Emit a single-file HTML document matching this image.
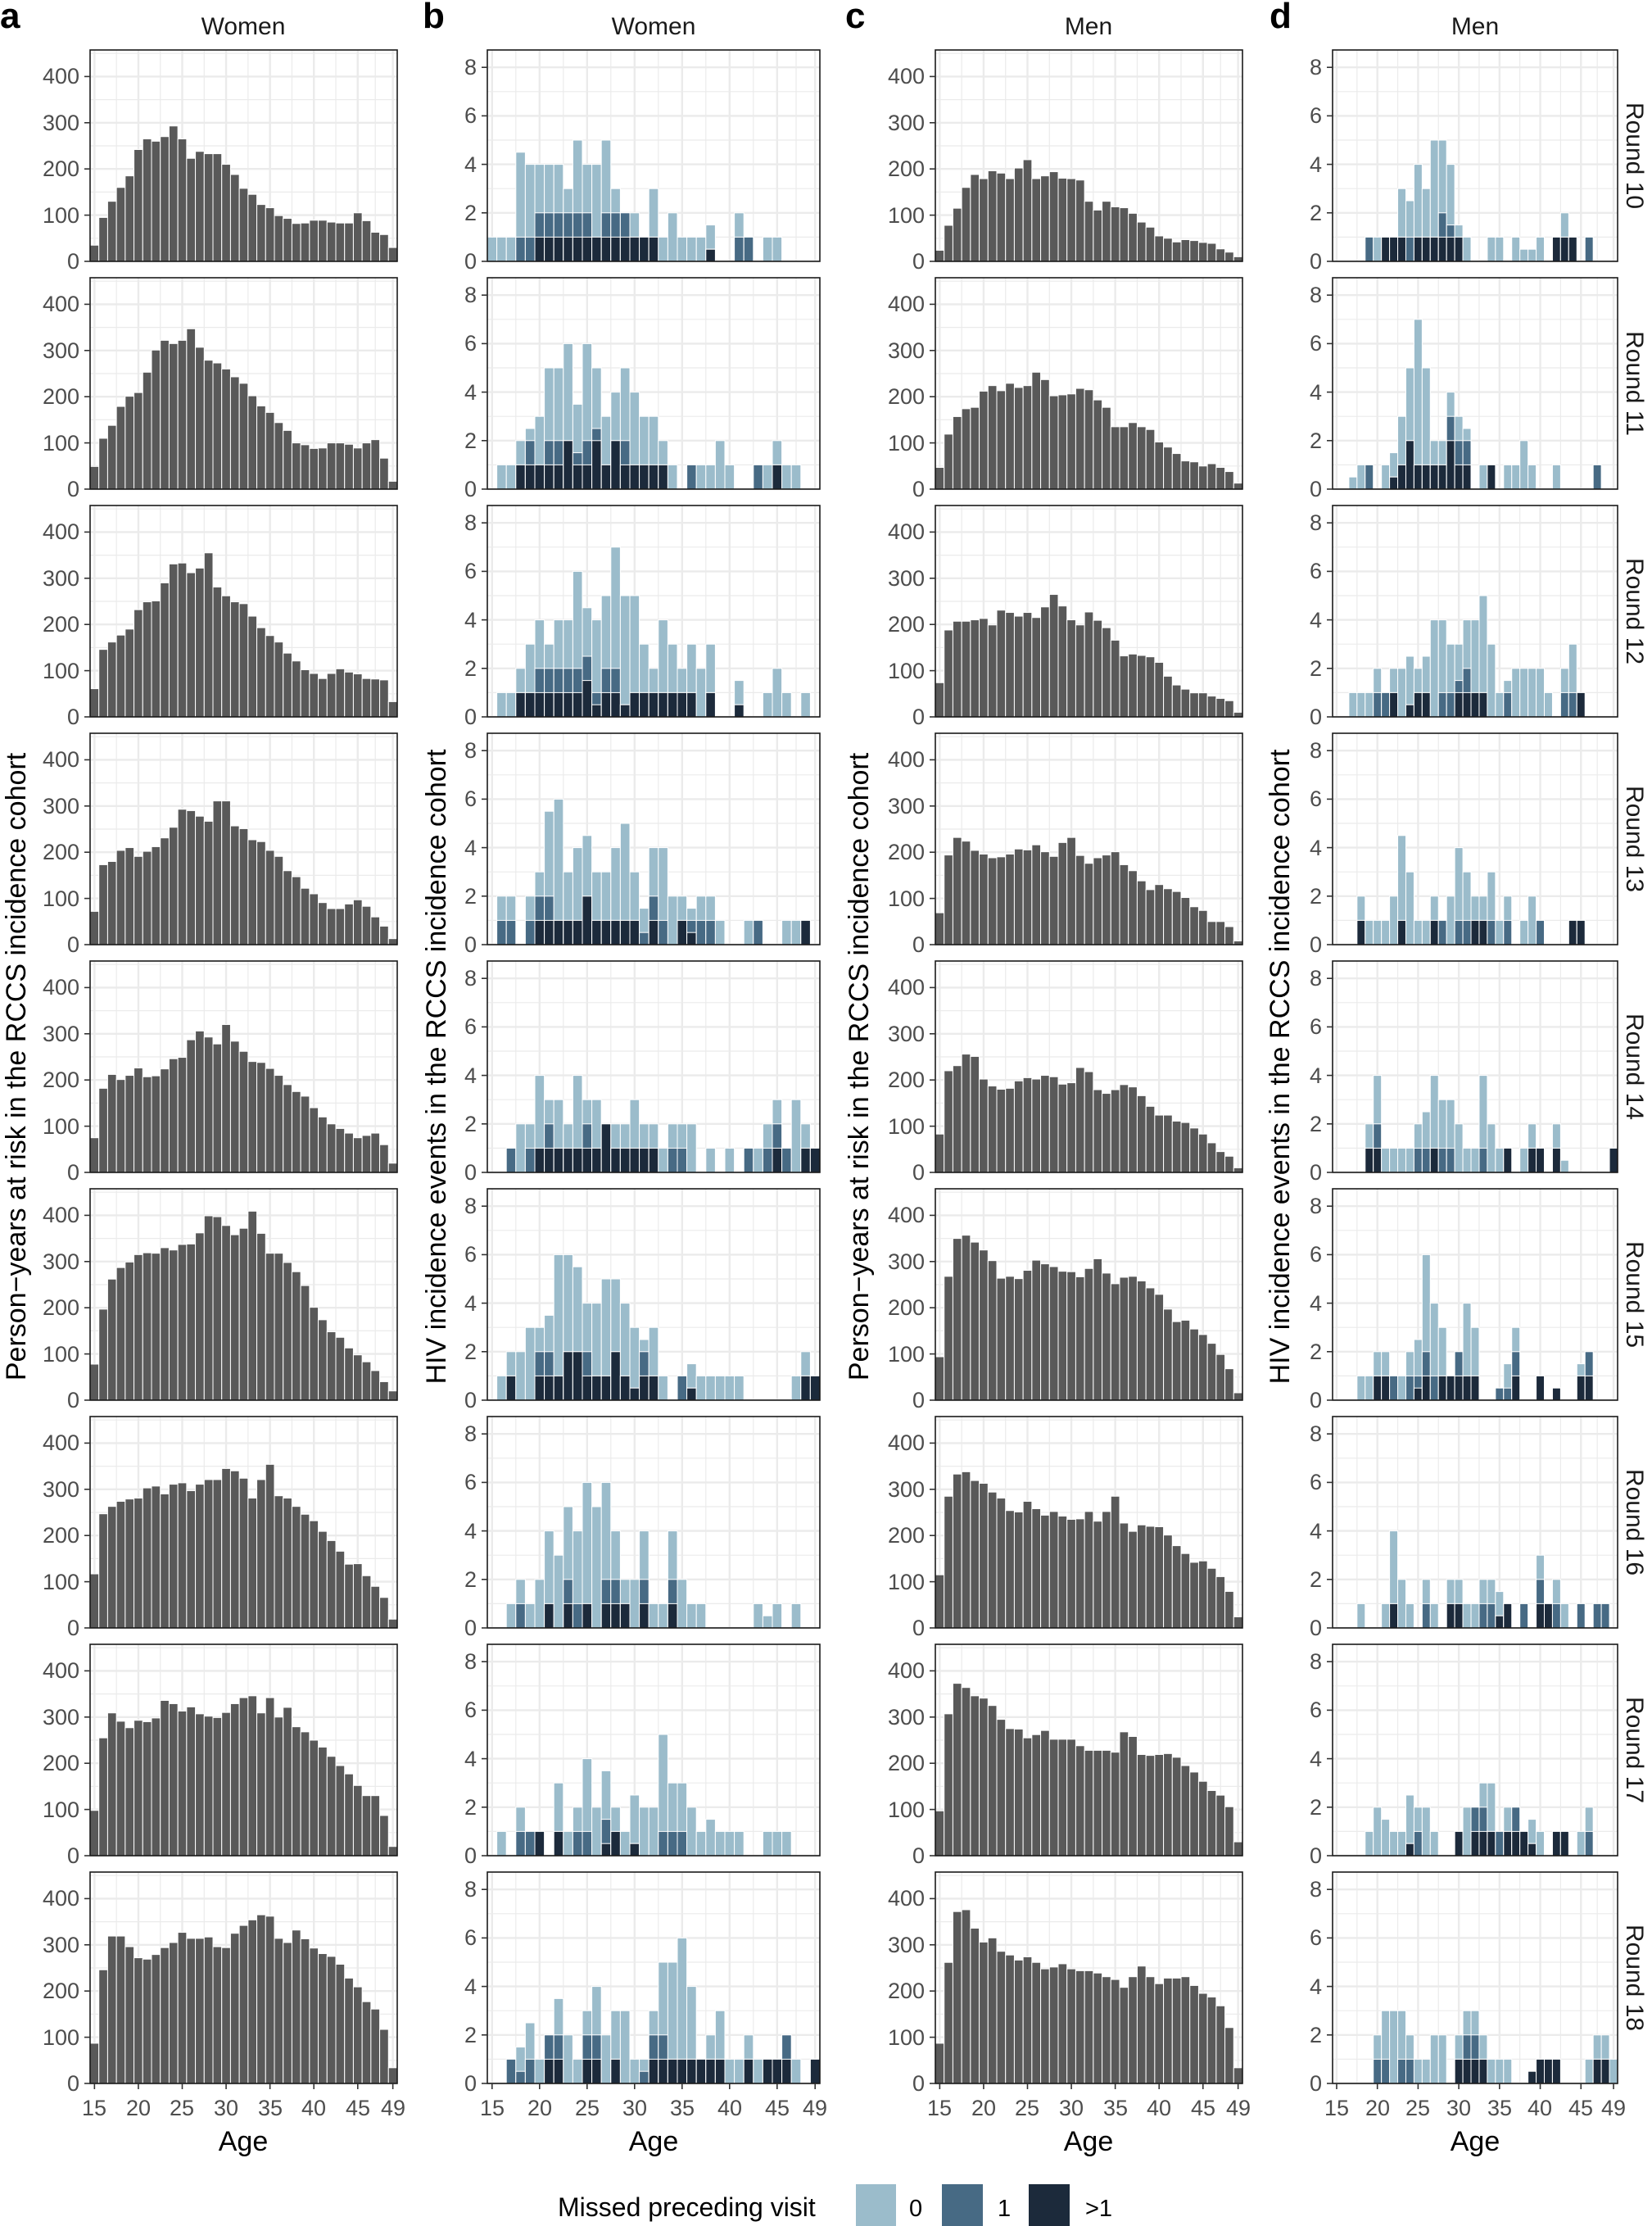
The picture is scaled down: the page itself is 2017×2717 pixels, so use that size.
<!DOCTYPE html>
<html><head><meta charset="utf-8">
<style>
body{margin:0;background:#fff}
svg{display:block;font-family:"Liberation Sans",Arial,sans-serif}
.ty{font-size:27px;fill:#4d4d4d;text-anchor:end}
.tx{font-size:27px;fill:#4d4d4d;text-anchor:middle}
.st{font-size:30px;fill:#1a1a1a;text-anchor:middle}
.ttl{font-size:30px;fill:#1a1a1a;text-anchor:middle}
.lt{font-size:44px;font-weight:bold;fill:#000}
.ax{font-size:34px;fill:#000;text-anchor:middle}
</style></head><body>
<svg id="s" width="2017" height="2717" viewBox="0 0 2017 2717" xmlns="http://www.w3.org/2000/svg">
<rect width="2017" height="2717" fill="#fff"/>
<g id="plots"></g>
<text class="lt" x="0" y="34">a</text>
<text class="lt" x="516" y="34">b</text>
<text class="lt" x="1032" y="34">c</text>
<text class="lt" x="1550" y="34">d</text>
<text class="ttl" x="297" y="42">Women</text>
<text class="ttl" x="798" y="42">Women</text>
<text class="ttl" x="1329" y="42">Men</text>
<text class="ttl" x="1801" y="42">Men</text>
<text class="ax" transform="translate(31,1302) rotate(-90)">Person−years at risk in the RCCS incidence cohort</text>
<text class="ax" transform="translate(544,1302) rotate(-90)">HIV incidence events in the RCCS incidence cohort</text>
<text class="ax" transform="translate(1060,1302) rotate(-90)">Person−years at risk in the RCCS incidence cohort</text>
<text class="ax" transform="translate(1574,1302) rotate(-90)">HIV incidence events in the RCCS incidence cohort</text>

<g transform="translate(0,0)"><text class="ty"><tspan x="97" y="328">0</tspan><tspan x="97" y="272">100</tspan><tspan x="97" y="215">200</tspan><tspan x="97" y="159">300</tspan><tspan x="97" y="102">400</tspan></text><text class="ty"><tspan x="582" y="328">0</tspan><tspan x="582" y="269">2</tspan><tspan x="582" y="210">4</tspan><tspan x="582" y="150">6</tspan><tspan x="582" y="91">8</tspan></text><text class="ty"><tspan x="1129" y="328">0</tspan><tspan x="1129" y="272">100</tspan><tspan x="1129" y="215">200</tspan><tspan x="1129" y="159">300</tspan><tspan x="1129" y="102">400</tspan></text><text class="ty"><tspan x="1614" y="328">0</tspan><tspan x="1614" y="269">2</tspan><tspan x="1614" y="210">4</tspan><tspan x="1614" y="150">6</tspan><tspan x="1614" y="91">8</tspan></text><text class="st" transform="translate(1986,190) rotate(90)">Round 10</text></g>
<g transform="translate(0,278)"><text class="ty"><tspan x="97" y="328">0</tspan><tspan x="97" y="272">100</tspan><tspan x="97" y="215">200</tspan><tspan x="97" y="159">300</tspan><tspan x="97" y="102">400</tspan></text><text class="ty"><tspan x="582" y="328">0</tspan><tspan x="582" y="269">2</tspan><tspan x="582" y="210">4</tspan><tspan x="582" y="150">6</tspan><tspan x="582" y="91">8</tspan></text><text class="ty"><tspan x="1129" y="328">0</tspan><tspan x="1129" y="272">100</tspan><tspan x="1129" y="215">200</tspan><tspan x="1129" y="159">300</tspan><tspan x="1129" y="102">400</tspan></text><text class="ty"><tspan x="1614" y="328">0</tspan><tspan x="1614" y="269">2</tspan><tspan x="1614" y="210">4</tspan><tspan x="1614" y="150">6</tspan><tspan x="1614" y="91">8</tspan></text><text class="st" transform="translate(1986,190) rotate(90)">Round 11</text></g>
<g transform="translate(0,556)"><text class="ty"><tspan x="97" y="328">0</tspan><tspan x="97" y="272">100</tspan><tspan x="97" y="215">200</tspan><tspan x="97" y="159">300</tspan><tspan x="97" y="102">400</tspan></text><text class="ty"><tspan x="582" y="328">0</tspan><tspan x="582" y="269">2</tspan><tspan x="582" y="210">4</tspan><tspan x="582" y="150">6</tspan><tspan x="582" y="91">8</tspan></text><text class="ty"><tspan x="1129" y="328">0</tspan><tspan x="1129" y="272">100</tspan><tspan x="1129" y="215">200</tspan><tspan x="1129" y="159">300</tspan><tspan x="1129" y="102">400</tspan></text><text class="ty"><tspan x="1614" y="328">0</tspan><tspan x="1614" y="269">2</tspan><tspan x="1614" y="210">4</tspan><tspan x="1614" y="150">6</tspan><tspan x="1614" y="91">8</tspan></text><text class="st" transform="translate(1986,190) rotate(90)">Round 12</text></g>
<g transform="translate(0,834)"><text class="ty"><tspan x="97" y="328">0</tspan><tspan x="97" y="272">100</tspan><tspan x="97" y="215">200</tspan><tspan x="97" y="159">300</tspan><tspan x="97" y="102">400</tspan></text><text class="ty"><tspan x="582" y="328">0</tspan><tspan x="582" y="269">2</tspan><tspan x="582" y="210">4</tspan><tspan x="582" y="150">6</tspan><tspan x="582" y="91">8</tspan></text><text class="ty"><tspan x="1129" y="328">0</tspan><tspan x="1129" y="272">100</tspan><tspan x="1129" y="215">200</tspan><tspan x="1129" y="159">300</tspan><tspan x="1129" y="102">400</tspan></text><text class="ty"><tspan x="1614" y="328">0</tspan><tspan x="1614" y="269">2</tspan><tspan x="1614" y="210">4</tspan><tspan x="1614" y="150">6</tspan><tspan x="1614" y="91">8</tspan></text><text class="st" transform="translate(1986,190) rotate(90)">Round 13</text></g>
<g transform="translate(0,1112)"><text class="ty"><tspan x="97" y="328">0</tspan><tspan x="97" y="272">100</tspan><tspan x="97" y="215">200</tspan><tspan x="97" y="159">300</tspan><tspan x="97" y="102">400</tspan></text><text class="ty"><tspan x="582" y="328">0</tspan><tspan x="582" y="269">2</tspan><tspan x="582" y="210">4</tspan><tspan x="582" y="150">6</tspan><tspan x="582" y="91">8</tspan></text><text class="ty"><tspan x="1129" y="328">0</tspan><tspan x="1129" y="272">100</tspan><tspan x="1129" y="215">200</tspan><tspan x="1129" y="159">300</tspan><tspan x="1129" y="102">400</tspan></text><text class="ty"><tspan x="1614" y="328">0</tspan><tspan x="1614" y="269">2</tspan><tspan x="1614" y="210">4</tspan><tspan x="1614" y="150">6</tspan><tspan x="1614" y="91">8</tspan></text><text class="st" transform="translate(1986,190) rotate(90)">Round 14</text></g>
<g transform="translate(0,1390)"><text class="ty"><tspan x="97" y="328">0</tspan><tspan x="97" y="272">100</tspan><tspan x="97" y="215">200</tspan><tspan x="97" y="159">300</tspan><tspan x="97" y="102">400</tspan></text><text class="ty"><tspan x="582" y="328">0</tspan><tspan x="582" y="269">2</tspan><tspan x="582" y="210">4</tspan><tspan x="582" y="150">6</tspan><tspan x="582" y="91">8</tspan></text><text class="ty"><tspan x="1129" y="328">0</tspan><tspan x="1129" y="272">100</tspan><tspan x="1129" y="215">200</tspan><tspan x="1129" y="159">300</tspan><tspan x="1129" y="102">400</tspan></text><text class="ty"><tspan x="1614" y="328">0</tspan><tspan x="1614" y="269">2</tspan><tspan x="1614" y="210">4</tspan><tspan x="1614" y="150">6</tspan><tspan x="1614" y="91">8</tspan></text><text class="st" transform="translate(1986,190) rotate(90)">Round 15</text></g>
<g transform="translate(0,1668)"><text class="ty"><tspan x="97" y="328">0</tspan><tspan x="97" y="272">100</tspan><tspan x="97" y="215">200</tspan><tspan x="97" y="159">300</tspan><tspan x="97" y="102">400</tspan></text><text class="ty"><tspan x="582" y="328">0</tspan><tspan x="582" y="269">2</tspan><tspan x="582" y="210">4</tspan><tspan x="582" y="150">6</tspan><tspan x="582" y="91">8</tspan></text><text class="ty"><tspan x="1129" y="328">0</tspan><tspan x="1129" y="272">100</tspan><tspan x="1129" y="215">200</tspan><tspan x="1129" y="159">300</tspan><tspan x="1129" y="102">400</tspan></text><text class="ty"><tspan x="1614" y="328">0</tspan><tspan x="1614" y="269">2</tspan><tspan x="1614" y="210">4</tspan><tspan x="1614" y="150">6</tspan><tspan x="1614" y="91">8</tspan></text><text class="st" transform="translate(1986,190) rotate(90)">Round 16</text></g>
<g transform="translate(0,1946)"><text class="ty"><tspan x="97" y="328">0</tspan><tspan x="97" y="272">100</tspan><tspan x="97" y="215">200</tspan><tspan x="97" y="159">300</tspan><tspan x="97" y="102">400</tspan></text><text class="ty"><tspan x="582" y="328">0</tspan><tspan x="582" y="269">2</tspan><tspan x="582" y="210">4</tspan><tspan x="582" y="150">6</tspan><tspan x="582" y="91">8</tspan></text><text class="ty"><tspan x="1129" y="328">0</tspan><tspan x="1129" y="272">100</tspan><tspan x="1129" y="215">200</tspan><tspan x="1129" y="159">300</tspan><tspan x="1129" y="102">400</tspan></text><text class="ty"><tspan x="1614" y="328">0</tspan><tspan x="1614" y="269">2</tspan><tspan x="1614" y="210">4</tspan><tspan x="1614" y="150">6</tspan><tspan x="1614" y="91">8</tspan></text><text class="st" transform="translate(1986,190) rotate(90)">Round 17</text></g>
<g transform="translate(0,2224)"><text class="ty"><tspan x="97" y="328">0</tspan><tspan x="97" y="272">100</tspan><tspan x="97" y="215">200</tspan><tspan x="97" y="159">300</tspan><tspan x="97" y="102">400</tspan></text><text class="ty"><tspan x="582" y="328">0</tspan><tspan x="582" y="269">2</tspan><tspan x="582" y="210">4</tspan><tspan x="582" y="150">6</tspan><tspan x="582" y="91">8</tspan></text><text class="ty"><tspan x="1129" y="328">0</tspan><tspan x="1129" y="272">100</tspan><tspan x="1129" y="215">200</tspan><tspan x="1129" y="159">300</tspan><tspan x="1129" y="102">400</tspan></text><text class="ty"><tspan x="1614" y="328">0</tspan><tspan x="1614" y="269">2</tspan><tspan x="1614" y="210">4</tspan><tspan x="1614" y="150">6</tspan><tspan x="1614" y="91">8</tspan></text><text class="st" transform="translate(1986,190) rotate(90)">Round 18</text></g>

<text class="tx"><tspan x="115" y="2582">15</tspan><tspan x="169" y="2582">20</tspan><tspan x="222" y="2582">25</tspan><tspan x="276" y="2582">30</tspan><tspan x="330" y="2582">35</tspan><tspan x="383" y="2582">40</tspan><tspan x="437" y="2582">45</tspan><tspan x="480" y="2582">49</tspan></text>
<text class="tx"><tspan x="601" y="2582">15</tspan><tspan x="659" y="2582">20</tspan><tspan x="717" y="2582">25</tspan><tspan x="775" y="2582">30</tspan><tspan x="833" y="2582">35</tspan><tspan x="891" y="2582">40</tspan><tspan x="949" y="2582">45</tspan><tspan x="995" y="2582">49</tspan></text>
<text class="tx"><tspan x="1147" y="2582">15</tspan><tspan x="1201" y="2582">20</tspan><tspan x="1254" y="2582">25</tspan><tspan x="1308" y="2582">30</tspan><tspan x="1362" y="2582">35</tspan><tspan x="1415" y="2582">40</tspan><tspan x="1469" y="2582">45</tspan><tspan x="1512" y="2582">49</tspan></text>
<text class="tx"><tspan x="1632" y="2582">15</tspan><tspan x="1682" y="2582">20</tspan><tspan x="1731" y="2582">25</tspan><tspan x="1781" y="2582">30</tspan><tspan x="1831" y="2582">35</tspan><tspan x="1880" y="2582">40</tspan><tspan x="1930" y="2582">45</tspan><tspan x="1970" y="2582">49</tspan></text>
<text class="ax" x="297" y="2625">Age</text>
<text class="ax" x="798" y="2625">Age</text>
<text class="ax" x="1329" y="2625">Age</text>
<text class="ax" x="1801" y="2625">Age</text>

<text x="681" y="2705" style="font-size:32px;fill:#000">Missed preceding visit</text>
<rect x="1045" y="2666" width="49" height="51" fill="#9bbccb"/>
<text x="1110" y="2705" style="font-size:29px;fill:#000">0</text>
<rect x="1150" y="2666" width="50" height="51" fill="#476a84"/>
<text x="1218" y="2705" style="font-size:29px;fill:#000">1</text>
<rect x="1256" y="2666" width="50" height="51" fill="#1c2a3b"/>
<text x="1325" y="2705" style="font-size:29px;fill:#000">&gt;1</text>
</svg>
<script>
(function(){
var NS="http://www.w3.org/2000/svg",G=document.getElementById("plots");
function el(t,a){var e=document.createElementNS(NS,t);for(var k in a)e.setAttribute(k,a[k]);G.appendChild(e);return e;}
var A=[
"35,95,130,160,185,242,265,260,270,293,265,223,238,233,233,210,188,158,145,123,116,99,93,82,83,89,89,85,83,83,105,88,63,58,30",
"49,110,138,179,201,209,253,301,322,315,322,347,307,279,273,260,243,229,202,180,166,144,127,100,96,88,89,100,100,97,89,100,107,67,17",
"61,146,162,177,190,232,249,251,290,331,333,312,322,355,281,262,249,245,218,193,176,162,138,121,102,94,83,94,104,97,93,83,82,80,33",
"72,173,180,204,210,191,202,212,231,254,293,290,278,267,311,311,257,251,227,223,204,191,160,147,122,110,91,78,78,88,97,83,60,40,13",
"75,182,212,201,210,226,207,209,224,246,249,287,306,293,278,320,284,262,240,238,225,210,190,175,165,140,120,105,95,85,75,80,85,60,20",
"78,197,262,287,299,315,319,318,330,325,337,338,362,399,397,378,358,372,409,361,318,318,298,278,248,201,174,148,136,113,98,83,64,40,20",
"117,247,263,274,279,281,303,307,290,311,314,297,311,321,321,345,340,324,281,321,354,286,281,263,246,232,209,189,166,138,139,113,90,66,19",
"98,255,309,291,277,293,290,298,336,329,313,322,307,302,299,310,329,342,346,309,342,300,321,279,268,250,235,215,195,177,152,130,130,87,20",
"87,246,319,319,296,272,269,279,294,305,327,314,314,317,296,294,325,342,354,365,362,314,305,332,313,293,281,275,258,228,209,177,161,117,34"];
var C=[
"24,78,115,160,188,179,196,191,179,202,220,179,185,194,180,179,176,130,111,130,118,116,104,85,74,55,50,42,47,45,41,39,27,20,10",
"47,119,157,174,177,212,224,213,229,220,224,253,237,202,204,206,218,215,193,177,135,135,144,135,129,102,91,77,61,59,50,55,47,38,13",
"74,188,207,207,210,213,199,231,226,218,226,215,238,265,240,210,199,227,209,193,166,132,136,133,130,118,88,69,60,52,52,45,40,35,10",
"69,194,232,224,204,196,188,190,196,207,205,216,201,191,221,232,193,176,188,194,201,173,160,138,119,130,121,115,102,82,74,50,50,39,8",
"83,220,231,256,251,202,187,180,182,198,205,202,210,207,191,194,227,218,179,171,179,190,185,166,143,124,124,111,108,96,83,64,45,35,10",
"94,268,350,357,342,325,302,264,268,263,281,303,295,289,279,278,267,285,306,275,252,266,268,258,243,229,197,170,173,154,142,123,99,68,16",
"115,285,333,338,319,313,294,281,254,251,274,258,244,252,242,235,236,252,231,252,285,227,209,223,220,219,201,178,161,142,145,129,111,79,24",
"97,307,373,364,346,341,325,295,275,274,255,262,271,252,252,252,238,228,228,228,224,268,258,219,217,219,221,213,195,181,161,141,131,106,30",
"87,262,372,376,336,306,315,286,278,267,274,262,248,252,259,248,244,244,239,231,225,208,231,254,231,216,228,228,231,212,195,187,168,121,34"];
var B=[
"15:0,0,1 16:0,0,1 17:0,0,1 18:0,1,4.5 19:0,1,4 20:1,2,4 21:1,2,4 22:1,2,4 23:1,2,3 24:1,2,5 25:1,2,4 26:1,1,4 27:1,2,5 28:1,2,3 29:1,2,2 30:1,1,2 31:1,1,1 32:1,1,3 33:0,0,1 34:0,0,2 35:0,0,1 36:0,0,1 37:0,0,1 38:0.5,0.5,1.5 41:0,1,2 42:0,1,1 44:0,0,1 45:0,0,1",
"16:0,0,1 17:0,0,1 18:1,1,2 19:1,2,2.5 20:1,1,3 21:1,2,5 22:1,2,5 23:2,2,6 24:1,1.5,3.5 25:1,2,6 26:2,2.5,5 27:1,1,3 28:2,2,4 29:1,2,5 30:1,1,4 31:1,1,3 32:1,1,3 33:1,1,2 34:0,0,1 36:0,1,1 37:0,0,1 38:0,0,1 39:0,0,2 40:0,0,1 43:0,1,1 44:0,0,1 45:1,1,2 46:0,0,1 47:0,0,1",
"16:0,0,1 17:0,0,1 18:1,1,2 19:1,1,3 20:1,2,4 21:1,2,3 22:1,2,4 23:1,2,4 24:1,2,6 25:1.5,2.5,4.5 26:0.5,1,4 27:1,2,5 28:1,2,7 29:0.5,0.5,5 30:1,1,5 31:1,1,3 32:1,1,2 33:1,1,4 34:1,1,3 35:1,1,2 36:1,1,3 37:0,0,2 38:1,1,3 41:0.5,0.5,1.5 44:0,0,1 45:0,0,2 46:0,0,1 48:0,0,1",
"16:0,1,2 17:0,1,2 19:0,1,2 20:1,2,3 21:1,2,5.5 22:1,1,6 23:1,1,3 24:1,1,4 25:2,2,4.5 26:1,1,3 27:1,1,3 28:1,1,4 29:1,1,5 30:1,1,3 31:0,0.5,1.5 32:1,2,4 33:0,1,4 34:0,0,2 35:1,1,2 36:0.5,1,1.5 37:0,1,2 38:0,1,2 39:0,0,1 42:0,0,1 43:0,1,1 46:0,0,1 47:0,0,1 48:1,1,1",
"17:0,1,1 18:0,0,2 19:0,1,2 20:1,1,4 21:1,2,3 22:1,1,3 23:1,1,2 24:1,1,4 25:1,2,3 26:1,1,3 27:2,2,2 28:1,1,2 29:1,1,2 30:1,1,3 31:1,1,2 32:1,1,2 33:0,0,1 34:0,1,2 35:0,1,2 36:0,0,2 38:0,0,1 40:0,0,1 42:0,1,1 43:0,0,1 44:0,1,2 45:1,2,3 46:0,1,1 47:0,0,3 48:1,1,2 49:1,1,1",
"16:0,0,1 17:1,1,2 18:0,0,2 19:0,0,3 20:1,2,3 21:1,2,3.5 22:1,1,6 23:2,2,6 24:2,2,5.5 25:1,2,4 26:1,1,4 27:1,1,5 28:2,2,5 29:1,1,4 30:0.5,0.5,3 31:1,2,2.5 32:1,1,3 33:0,0,1 35:0,1,1 36:0.5,0.5,1.5 37:0,0,1 38:0,0,1 39:0,0,1 40:0,0,1 41:0,0,1 47:0,0,1 48:1,1,2 49:1,1,1",
"17:0,0,1 18:0,1,2 19:0,0,1 20:0,0,2 21:1,1,4 22:0,0,3 23:1,2,5 24:0,1,4 25:1,1,6 26:0,0,5 27:1,2,6 28:1,2,4 29:1,1,2 30:0,0,2 31:1,2,4 32:0,0,1 33:0,0,1 34:1,2,4 35:0,0,2 36:0,0,1 37:0,0,1 43:0,0,1 44:0,0,0.5 45:0,0,1 47:0,0,1",
"16:0,0,1 18:0,1,2 19:0,1,1 20:1,1,1 22:1,1,3 23:0,0,1 24:0,1,2 25:0,1,4 26:0,0,2 27:0.5,1.5,3.5 28:1,1,2 29:0,0,1 30:0.5,0.5,2.5 31:0,0,2 32:0,0,2 33:0,1,5 34:0,1,3 35:0,1,3 36:0,0,2 37:0,0,1 38:0,0,1.5 39:0,0,1 40:0,0,1 41:0,0,1 44:0,0,1 45:0,0,1 46:0,0,1",
"17:0,1,1 18:0,0.5,1.5 19:0,1,2.5 20:0,0,1 21:1,2,2 22:1,2,3.5 23:0,0,2 24:0,0,1 25:1,2,3 26:1,2,4 27:0,0,2 28:1,1,3 29:0,0,3 30:0,0,1 31:0,0.5,1 32:1,2,3 33:1,2,5 34:1,1,5 35:1,1,6 36:1,1,4 37:1,1,1 38:1,1,2 39:1,1,3 40:0,0,1 41:0,0,1 42:1,1,2 43:0,0,1 44:1,1,1 45:1,1,1 46:1,2,2 47:0,0,1 49:1,1,1"];
var D=[
"19:0,1,1 20:0,0,1 21:1,1,1 22:1,1,1 23:1,1,3 24:0,1,2.5 25:1,1,4 26:1,1,3 27:1,1,5 28:1,2,5 29:1,1.5,4 30:1,1,1.5 31:0,0,1 34:0,0,1 35:0,0,1 37:0,0,1 38:0,0,0.5 39:0,0,0.5 40:0,0,1 42:1,1,1 43:1,1,2 44:1,1,1 46:0,1,1",
"17:0,0,0.5 18:0,0,1 19:0,1,1 21:0,0,1 22:0.5,0.5,1.5 23:1,1,3 24:2,2,5 25:1,1,7 26:1,1,5 27:1,1,2 28:1,1,2 29:2,3,4 30:1,2,3 31:1,2,2.5 33:0,0,1 34:1,1,1 36:0,0,1 37:0,0,1 38:0,0,2 39:0,0,1 42:0,0,1 47:0,1,1",
"17:0,0,1 18:0,0,1 19:0,0,1 20:0,1,2 21:0,1,1 22:1,1,2 23:0,0,2 24:0.5,0.5,2.5 25:1,1,2 26:1,1,2.5 27:0,0,4 28:0,1,4 29:0,1,3 30:1,1.5,3 31:1,2,4 32:1,1,4 33:1,1,5 34:0,0,3 35:0,0,1 36:0,1,1.5 37:0,0,2 38:0,0,2 39:0,0,2 40:0,0,2 41:0,0,1 43:0,1,2 44:0,1,3 45:1,1,1",
"18:1,1,2 19:0,0,1 20:0,0,1 21:0,0,1 22:0,0,2 23:1,1,4.5 24:0,0,3 25:0,0,1 26:0,0,1 27:1,1,2 28:0,1,1 29:0,0,2 30:0,1,4 31:0,1,3 32:1,1,2 33:1,1,2 34:0,1,3 35:0,0,1 36:0,1,2 38:0,0,1 39:0,0,2 40:0,1,1 44:1,1,1 45:1,1,1",
"19:1,1,2 20:1,2,4 21:0,0,1 22:0,0,1 23:0,0,1 24:0,0,1 25:0,1,2 26:0,1,2.5 27:1,1,4 28:0,1,3 29:0,1,3 30:0,0,2 31:0,0,1 32:0,0,1 33:0,1,4 34:0,0,2 35:0,0,1 36:1,1,1 38:0,0,1 39:1,1,2 40:1,1,1 42:1,1,2 43:0,0,0.5 49:1,1,1",
"18:0,0,1 19:0,0,1 20:1,1,2 21:1,1,2 22:0,1,1 23:0,0,1 24:0,1,2 25:0.5,1,2.5 26:1,2,6 27:0,1,4 28:1,1,3 29:1,1,1 30:1,2,2 31:1,1,4 32:1,1,3 35:0,0.5,0.5 36:0,0.5,1.5 37:1,2,3 40:1,1,1 42:0.5,0.5,0.5 45:1,1,1.5 46:1,2,2",
"18:0,0,1 21:0,0,1 22:1,1,4 23:0,0,2 24:0,0,1 26:0,1,2 27:0,0,1 29:1,1,2 30:1,1,2 31:0,0,1 32:0,0,1 33:0,1,2 34:0,1,2 35:0.5,0.5,1.5 36:1,1,1 38:0,1,1 40:1,2,3 41:1,1,1 42:0,1,2 43:0,0,1 45:0,1,1 47:0,1,1 48:0,1,1",
"19:0,0,1 20:0,0,2 21:0,0,1.5 22:0,0,1 23:0,0,1 24:0.5,0.5,2.5 25:0,1,2 26:0,0,2 27:0,0,1 30:1,1,1 31:0,0,2 32:1,2,2 33:1,2,3 34:1,1,3 35:0,1,1 36:1,1,2 37:1,2,2 38:1,1,1 39:0.5,0.5,1.5 40:0,0,1 42:1,1,1 43:1,1,1 45:0,0,1 46:0,1,2",
"20:0,1,2 21:0,1,3 22:0,0,3 23:0,1,3 24:0,1,2 25:0,0,1 26:0,0,1 27:0,0,2 28:0,0,2 30:1,1,2 31:1,2,3 32:1,2,3 33:1,1,2 34:0,0,1 35:0,0,1 36:0,0,1 39:0.5,0.5,0.5 40:1,1,1 41:1,1,1 42:1,1,1 46:0,0,1 47:1,1,2 48:1,1,2 49:0,0,1"];
function parse(s){var o={};s.trim().split(/\s+/).forEach(function(t){var p=t.split(':');o[+p[0]]=p[1].split(',').map(Number);});return o;}
var cols=[{x:110,w:375,type:'py',data:A},{x:595,w:406,type:'ev',data:B},{x:1142,w:375,type:'py',data:C},{x:1627,w:348,type:'ev',data:D}];
var H=258;
var LIGHT="#9bbccb",MID="#476a84",DARK="#1c2a3b",GRAY="#595959",GRID="#ebebeb";
cols.forEach(function(c){
  var bw=c.w/35;
  function X(a){return c.x+(a-14.5)*bw;}
  for(var r=0;r<9;r++){
    var top=61+278*r,bot=top+H;
    var sc=c.type=='py'?0.564:29.6;
    var majors=c.type=='py'?[0,100,200,300,400]:[0,2,4,6,8];
    var minors=c.type=='py'?[50,150,250,350,450]:[1,3,5,7];
    minors.forEach(function(v){var y=bot-v*sc;if(y>top)el('line',{x1:c.x,x2:c.x+c.w,y1:y,y2:y,stroke:GRID,'stroke-width':1.2});});
    [17.5,22.5,27.5,32.5,37.5,42.5,47].forEach(function(a){el('line',{x1:X(a),x2:X(a),y1:top,y2:bot,stroke:GRID,'stroke-width':1.2});});
    majors.forEach(function(v){var y=bot-v*sc;el('line',{x1:c.x,x2:c.x+c.w,y1:y,y2:y,stroke:GRID,'stroke-width':2.4});});
    [15,20,25,30,35,40,45,49].forEach(function(a){el('line',{x1:X(a),x2:X(a),y1:top,y2:bot,stroke:GRID,'stroke-width':2.4});});
    if(c.type=='py'){
      var vals=c.data[r].split(',').map(Number);
      for(var i=0;i<35;i++){var v=vals[i]||0;if(v<=0)continue;
        el('rect',{x:X(15+i)-bw/2,y:bot-v*sc,width:bw,height:v*sc,fill:GRAY,stroke:'#fff','stroke-width':1});}
    }else{
      var o=parse(c.data[r]);
      for(var a=15;a<=49;a++){var e=o[a];if(!e)continue;
        [[e[2],LIGHT],[e[1],MID],[e[0],DARK]].forEach(function(p){if(p[0]>0)el('rect',{x:X(a)-bw/2,y:bot-p[0]*sc,width:bw,height:p[0]*sc,fill:p[1],stroke:'#fff','stroke-width':1});});
      }
    }
    el('rect',{x:c.x,y:top,width:c.w,height:H,fill:'none',stroke:'#1a1a1a','stroke-width':1.6});
    majors.forEach(function(v){var y=bot-v*sc;el('line',{x1:c.x-7,x2:c.x,y1:y,y2:y,stroke:'#333','stroke-width':1.6});});
    if(r==8){[15,20,25,30,35,40,45,49].forEach(function(a){el('line',{x1:X(a),x2:X(a),y1:bot,y2:bot+7,stroke:'#333','stroke-width':1.6});});}
  }
});
})();
</script>
</body></html>
